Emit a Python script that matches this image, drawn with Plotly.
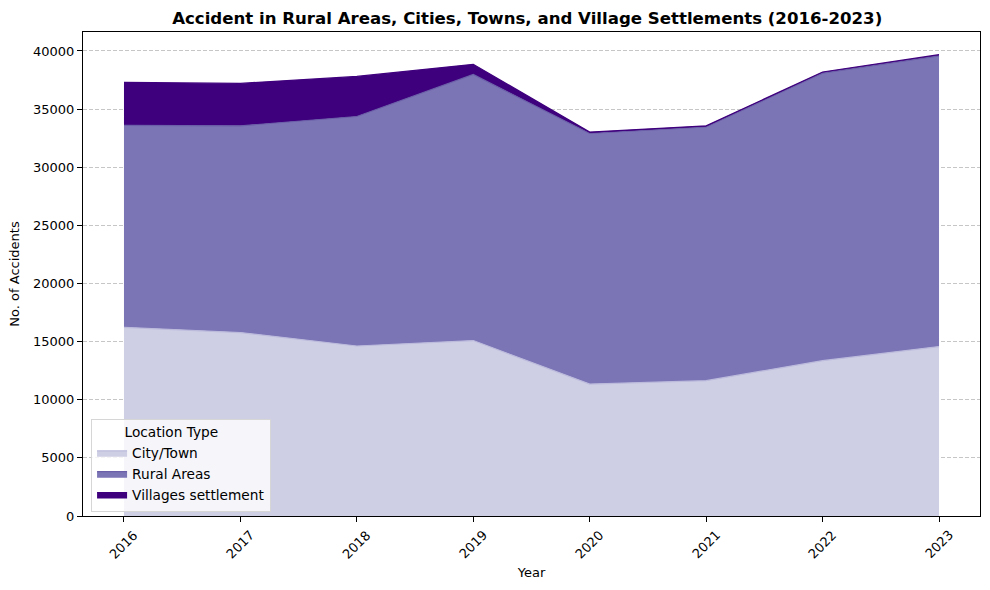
import plotly.graph_objects as go

years = [2016, 2017, 2018, 2019, 2020, 2021, 2022, 2023]
city_town = [16230, 15780, 14620, 15090, 11350, 11640, 13360, 14570]
rural_areas = [17360, 17780, 19740, 22890, 21550, 21820, 24730, 25010]
villages = [3700, 3650, 3450, 870, 120, 100, 100, 100]
series_names = ["City/Town", "Rural Areas", "Villages settlement"]
colors = ["#cecee5", "#7b75b6", "#3f007d"]
line_colors = ["#bcbbdc", "#6a5fa8", "#3f007d"]

fig = go.Figure()
for name, vals, c, lc in zip(series_names, [city_town, rural_areas, villages], colors, line_colors):
    fig.add_trace(go.Scatter(
        x=years, y=vals, name=name, stackgroup="one", mode="lines",
        line=dict(color=lc, width=1.2), fillcolor=c,
    ))

font = "DejaVu Sans"
fig.update_layout(
    width=990, height=590,
    margin=dict(l=83, r=10, t=32, b=74),
    paper_bgcolor="white", plot_bgcolor="white",
    font=dict(family=font, size=13, color="black"),
    title=dict(text="<b>Accident in Rural Areas, Cities, Towns, and Village Settlements (2016-2023)</b>",
               x=0.5325, xanchor="center", y=0.97, yanchor="middle",
               font=dict(family=font, size=16.6, color="black")),
    xaxis=dict(range=[2015.648, 2023.352], tickmode="array", tickvals=years, showticklabels=False,
               ticks="outside", ticklen=5, tickcolor="black",
               showline=True, linecolor="black", linewidth=1, mirror=True, showgrid=False, zeroline=False,
               title=dict(text="Year", standoff=46, font=dict(size=13))),
    yaxis=dict(range=[0, 41630], dtick=5000, tickformat="d", ticks="outside", ticklen=5, tickcolor="black",
               showline=True, linecolor="black", linewidth=1, mirror=True,
               showgrid=True, gridcolor="rgba(160,160,160,0.6)", griddash="4px,2px", gridwidth=1,
               zeroline=False, tickfont=dict(size=13),
               title=dict(text="No. of Accidents", standoff=10, font=dict(size=13))),
    legend=dict(x=0.009, y=0.009, xanchor="left", yanchor="bottom",
                bgcolor="rgba(255,255,255,0.8)", bordercolor="#d6d6d6", borderwidth=1,
                title=dict(text="       Location Type", font=dict(size=13.7)),
                font=dict(size=13.7), traceorder="normal", tracegroupgap=0),
)

for yr in years:
    fig.add_annotation(x=yr, y=0, xref="x", yref="paper", text=str(yr), showarrow=False,
                       textangle=-45, xanchor="center", yanchor="top", yshift=-9,
                       font=dict(family=font, size=13, color="black"))

fig.write_html("out.html")
